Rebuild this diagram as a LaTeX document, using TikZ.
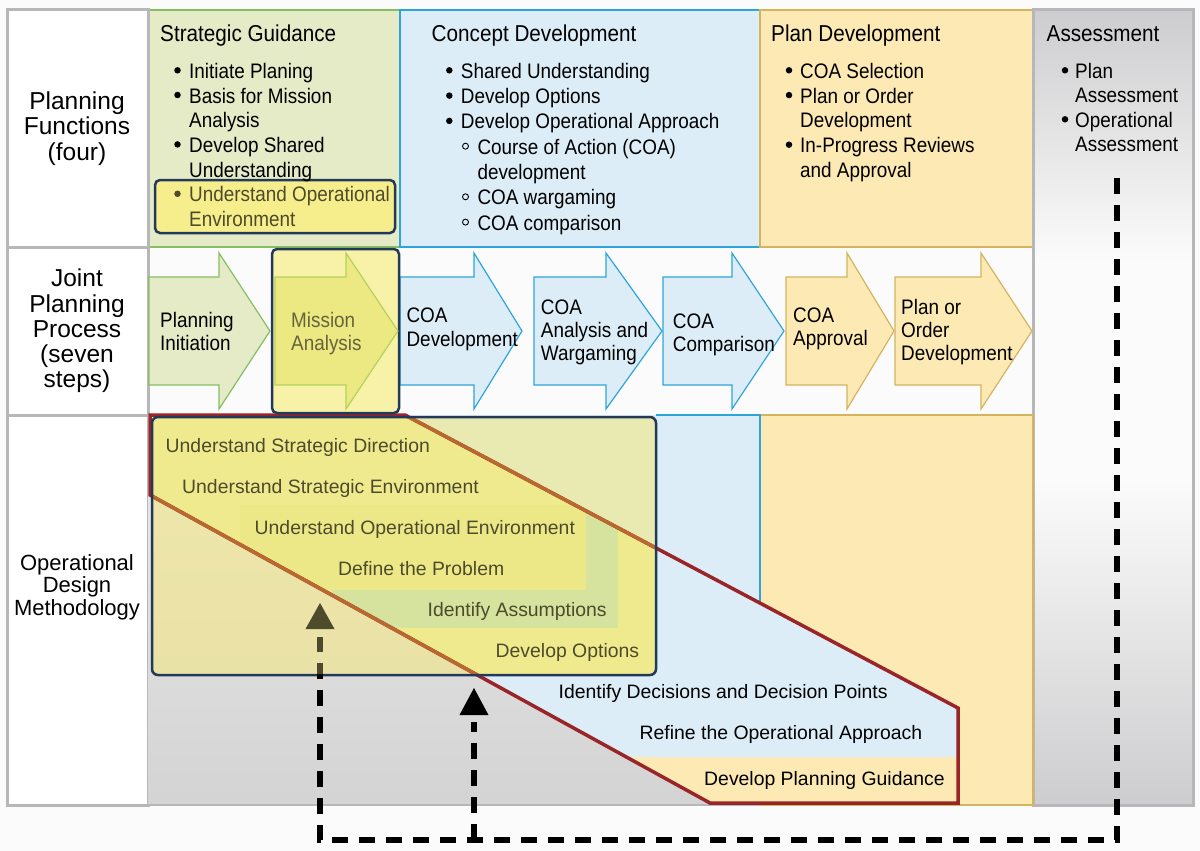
\documentclass[tikz,border=0pt]{standalone}
\usepackage{fontspec}
\setmainfont{Liberation Sans}
\newfontfamily\narrowfont{Liberation Sans}[FakeStretch=0.9]

\definecolor{pageBg}{HTML}{FBFBFB}
\definecolor{frameGray}{HTML}{B7B7B9}
\definecolor{asGray}{HTML}{CDCDCF}
\definecolor{sgGreen}{HTML}{E4EBC6}
\definecolor{sgLine}{HTML}{86BF62}
\definecolor{cdBlue}{HTML}{DCEDF7}
\definecolor{cdLine}{HTML}{2EA5DA}
\definecolor{pdYellow}{HTML}{FDE9B3}
\definecolor{pdLine}{HTML}{D3B55F}
\definecolor{navy}{HTML}{22395A}
\definecolor{redLine}{HTML}{9A2528}
\definecolor{orangeLine}{HTML}{B9682E}
\definecolor{olive}{HTML}{4D4B2C}
\definecolor{maText}{HTML}{66643C}
\definecolor{boxYellow}{HTML}{F5E77A}
\definecolor{bandYellow}{HTML}{EFEA8E}
\definecolor{innerYellow}{HTML}{EDE887}
\definecolor{innerGreen}{HTML}{D5E39F}
\definecolor{hiYellow}{HTML}{F6ED8C}
\definecolor{maYellow}{HTML}{ECE882}
\definecolor{maLine}{HTML}{B3D160}
\definecolor{paleYellow}{HTML}{F8F2A8}

\tikzset{
  head/.style={font=\narrowfont\fontsize{23}{27}\selectfont, anchor=base west, inner sep=0pt},
  item/.style={font=\narrowfont\fontsize{21}{25}\selectfont, anchor=base west, inner sep=0pt},
  steptext/.style={font=\narrowfont\fontsize{21}{24}\selectfont, anchor=base west, inner sep=0pt},
  odm/.style={font=\fontsize{19.4}{23}\selectfont, anchor=base west, inner sep=0pt},
  rowlabel/.style={align=center, inner sep=0pt},
  dot/.style={circle, fill=black, inner sep=0pt, minimum size=6.5pt},
  ring/.style={circle, draw=black, line width=0.9pt, inner sep=0pt, minimum size=6pt},
  sgStep/.style={draw=sgLine, fill=sgGreen, line width=1.2pt},
  maStep/.style={draw=maLine, fill=maYellow, line width=1.2pt},
  cdStep/.style={draw=cdLine, fill=cdBlue, line width=1.2pt},
  pdStep/.style={draw=pdLine, fill=pdYellow, line width=1.2pt},
  feedback/.style={line width=5.5pt, dash pattern=on 16pt off 11pt},
}

% left x, head base x, tip x, style
\newcommand{\jppArrow}[4]{%
  \draw[#4] (#1,277) -- (#2,277) -- (#2,253) -- (#3,331) -- (#2,409) -- (#2,385) -- (#1,385) -- cycle;}

\begin{document}
\begin{tikzpicture}[x=1pt, y=-1pt]

\useasboundingbox (0,0) rectangle (1200,851);
\fill[pageBg] (0,0) rectangle (1200,851);

% top row cells
\draw[sgLine, fill=sgGreen, line width=1.2pt] (148,10) rectangle (400,247);
\draw[cdLine, fill=cdBlue, line width=1.2pt] (400,10) rectangle (760,247);
\draw[pdLine, fill=pdYellow, line width=1.2pt] (760,10) rectangle (1033,247);

% assessment column
\shade[top color=asGray, bottom color=pageBg] (1033,10) rectangle (1193,260);
\fill[pageBg] (1033,259) rectangle (1193,481);
\shade[top color=pageBg, bottom color=asGray] (1033,480) rectangle (1193,805);
\draw[frameGray, line width=3pt] (1033,10) rectangle (1193,805);

% left column
\fill[white] (7,10) rectangle (148,805);
\draw[frameGray, line width=3pt] (7,10) rectangle (148,805);
\draw[frameGray, line width=3pt] (7,247) -- (148,247);
\draw[frameGray, line width=3pt] (7,415) -- (148,415);

% design methodology row
\coordinate (p1) at (150,415);
\coordinate (p2) at (405,415);
\coordinate (p3) at (958,708);
\coordinate (p4) at (958,803);
\coordinate (p5) at (710,803);
\coordinate (p6) at (150,495);

\shade[top color=black!8, bottom color=black!17] (148,415) rectangle (760,805);
\draw[frameGray, line width=2pt] (148,805) -- (760,805);
\draw[pdLine, fill=pdYellow, line width=1.2pt] (760,415) rectangle (1033,805);
\fill[cdBlue] (p2) -- (760,415) -- (760,602) -- cycle;
\draw[cdLine, line width=1.2pt] (656,415) -- (760,415) -- (760,602);

\fill[boxYellow, fill opacity=0.55, rounded corners=6pt] (152,417) rectangle (656,675);

\fill[cdBlue] (p1) -- (p2) -- (p3) -- (p4) -- (p5) -- (p6) -- cycle;
\begin{scope}
    \clip (p1) -- (p2) -- (p3) -- (p4) -- (p5) -- (p6) -- cycle;
    \fill[pdYellow] (580,757) rectangle (960,805);
    \fill[bandYellow, rounded corners=6pt] (152,417) rectangle (656,675);
    \fill[innerGreen] (332,513) rectangle (618,628);
    \fill[innerYellow] (240,505) rectangle (586,590);
\end{scope}

\draw[redLine, line width=3.5pt] (p1) -- (p2) -- (p3) -- (p4) -- (p5) -- (p6) -- cycle;
\begin{scope}
    \clip[rounded corners=6pt] (152,417) rectangle (656,675);
    \draw[orangeLine, line width=3.5pt] (p2) -- (p3) (p5) -- (p6);
\end{scope}
\draw[navy, line width=2.5pt, rounded corners=6pt] (152,417) rectangle (656,675);

% joint planning process steps
\jppArrow{149}{219}{270}{sgStep}
\jppArrow{400}{474}{522}{cdStep}
\jppArrow{534}{606}{662}{cdStep}
\jppArrow{663}{732}{784}{cdStep}
\jppArrow{786}{847}{894}{pdStep}
\jppArrow{895}{981}{1032}{pdStep}
\draw[navy, fill=paleYellow, line width=2.5pt, rounded corners=5pt] (272,249) rectangle (399,413);
\jppArrow{275}{346}{398}{maStep}

\draw[navy, fill=hiYellow, line width=2.5pt, rounded corners=5pt] (155,180) rectangle (395,233);

% row labels
\node[rowlabel, font=\fontsize{24.5}{25.3}\selectfont] (pfLabel) at (77,128.5) {Planning\\Functions\\(four)};
\node[rowlabel, font=\fontsize{24.5}{25.3}\selectfont] (jppLabel) at (77,331) {Joint\\Planning\\Process\\(seven\\steps)};
\node[rowlabel, font=\fontsize{22}{22.5}\selectfont] (odmLabel) at (77,587) {Operational\\Design\\Methodology};

% planning functions
\node[head] (sgHead) at (160,41.5) {Strategic Guidance};
\node[head] (cdHead) at (431.5,41.5) {Concept Development};
\node[head] (pdHead) at (771,41.5) {Plan Development};
\node[head] (asHead) at (1046.5,41.5) {Assessment};

\foreach \t [count=\i] in {Initiate Planing, Basis for Mission, Analysis, Develop Shared, Understanding}
    \node[item] (sg-\i) at (189,53.6+24.7*\i) {\t};
\foreach \t [count=\i from 6] in {Understand Operational, Environment}
    \node[item, text=olive] (sg-\i) at (189,53.6+24.7*\i) {\t};
\foreach \i in {1,2,4}
    \node[dot] (sgDot-\i) at (177.5,45.6+24.7*\i) {};
\node[dot, fill=olive] (sgDot-6) at (177.5,45.6+24.7*6) {};

\foreach \t [count=\i] in {Shared Understanding, Develop Options, Develop Operational Approach}
    \node[item] (cd-\i) at (460.7,53+25.3*\i) {\t};
\foreach \t [count=\i from 4] in {Course of Action (COA), development, COA wargaming, COA comparison}
    \node[item] (cd-\i) at (477.3,53+25.3*\i) {\t};
\foreach \i in {1,2,3}
    \node[dot] (cdDot-\i) at (449.3,45+25.3*\i) {};
\foreach \i in {4,6,7}
    \node[ring] (cdRing-\i) at (465.5,45+25.3*\i) {};

\foreach \t [count=\i] in {COA Selection, Plan or Order, Development, In-Progress Reviews, and Approval}
    \node[item] (pd-\i) at (800,53.5+24.8*\i) {\t};
\foreach \i in {1,2,4}
    \node[dot] (pdDot-\i) at (789,45.5+24.8*\i) {};

\foreach \t [count=\i] in {Plan, Assessment, Operational, Assessment}
    \node[item] (as-\i) at (1075,53.8+24.5*\i) {\t};
\foreach \i in {1,3}
    \node[dot] (asDot-\i) at (1065,45.8+24.5*\i) {};

% step labels
\foreach \t [count=\i] in {Planning, Initiation}
    \node[steptext] (pi-\i) at (160,303.7+23.3*\i) {\t};
\foreach \t [count=\i] in {Mission, Analysis}
    \node[steptext, text=maText] (ma-\i) at (291,303.7+23.3*\i) {\t};
\foreach \t [count=\i] in {COA, Development}
    \node[steptext] (cdev-\i) at (406.4,299.4+23.3*\i) {\t};
\foreach \t [count=\i] in {COA, Analysis and, Wargaming}
    \node[steptext] (caw-\i) at (540.7,290.7+23.3*\i) {\t};
\foreach \t [count=\i] in {COA, Comparison}
    \node[steptext] (cc-\i) at (672.7,305.2+23.3*\i) {\t};
\foreach \t [count=\i] in {COA, Approval}
    \node[steptext] (ca-\i) at (793,299.2+23.3*\i) {\t};
\foreach \t [count=\i] in {Plan or, Order, Development}
    \node[steptext] (pod-\i) at (901,290.7+23.3*\i) {\t};

% design steps
\node[odm, text=olive] (usd) at (165.5,452.5) {Understand Strategic Direction};
\node[odm, text=olive] (use) at (182,493) {Understand Strategic Environment};
\node[odm, text=olive] (uoe) at (254.5,534) {Understand Operational Environment};
\node[odm, text=olive] (dtp) at (338,575) {Define the Problem};
\node[odm, text=olive] (ida) at (427.5,616.5) {Identify Assumptions};
\node[odm, text=olive] (dvo) at (495.5,657) {Develop Options};
\node[odm] (idp) at (558.5,698) {Identify Decisions and Decision Points};
\node[odm] (roa) at (639.5,739) {Refine the Operational Approach};
\node[odm] (dpg) at (704,785.5) {Develop Planning Guidance};

% feedback from assessment
\coordinate (fbStart) at (1117,178);
\coordinate (fbCorner) at (1117,840);
\coordinate (fbLeft) at (320,840);
\coordinate (fbLeftEnd) at (320,637);
\coordinate (fbMid) at (474,840);
\coordinate (fbMidEnd) at (474,722);

\draw[feedback] (fbStart) -- (fbCorner) -- (fbLeft) -- (fbLeftEnd);
\draw[feedback] (fbMid) -- (fbMidEnd);
\fill[black] (474,688) -- (488.5,715) -- (459.5,715) -- cycle;
\begin{scope}
    \clip[rounded corners=6pt] (152,417) rectangle (656,674);
    \draw[feedback, olive] (fbStart) -- (fbCorner) -- (fbLeft) -- (fbLeftEnd);
\end{scope}
\fill[olive] (320,603) -- (334.5,629) -- (305.5,629) -- cycle;

\end{tikzpicture}
\end{document}
